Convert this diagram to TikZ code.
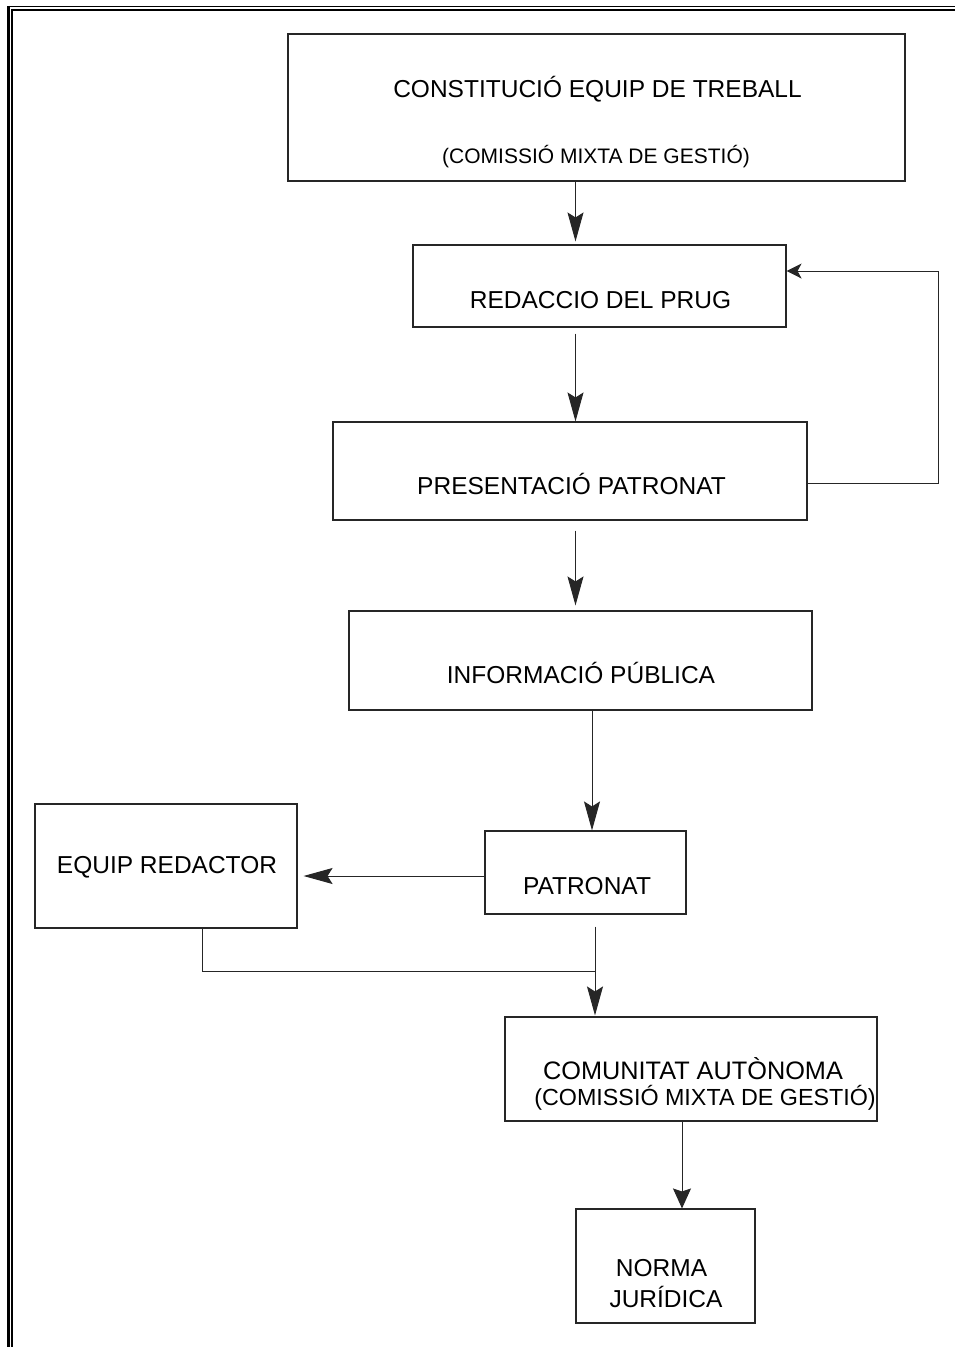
\documentclass[tikz,border=0pt]{standalone}
\usepackage{fontspec}
\setmainfont{Liberation Sans}
\usetikzlibrary{arrows.meta}
\tikzset{
  box/.style={draw=black!85, line width=1.1pt, rectangle, inner sep=0pt},
  txt/.style={inner sep=0pt, anchor=base, font=\fontsize{24.5}{31}\selectfont, align=center},
  conn/.style={draw=black!85, line width=1pt},
  arrlong/.style={conn, -{Stealth[length=29pt,width=16pt,inset=5pt]}},
  arrshort/.style={conn, -{Stealth[length=15pt,width=15pt,inset=4pt]}},
  arrwide/.style={conn, -{Stealth[length=20pt,width=18pt,inset=3pt]}},
  frame/.style={line cap=butt}
}
\begin{document}
\begin{tikzpicture}[x=1pt,y=-1pt]
\useasboundingbox (0,0) rectangle (955,1347);
\fill[white] (0,0) rectangle (955,1347);
% page frame (double line, top and left)
\draw[frame, line width=1.7pt] (7,6.6) -- (955,6.6);
\draw[frame, line width=1.7pt] (11,10) -- (955,10);
\draw[frame, line width=3pt] (8.5,5.8) -- (8.5,1347);
\draw[frame, line width=1.7pt] (11.9,9.2) -- (11.9,1347);

% boxes
\node[box, minimum width=617pt, minimum height=147pt] (n1) at (596.5,107.5) {};
\node[box, minimum width=373pt, minimum height=82pt]  (n2) at (599.5,286) {};
\node[box, minimum width=474pt, minimum height=98pt]  (n3) at (570,471) {};
\node[box, minimum width=463pt, minimum height=99pt]  (n4) at (580.5,660.5) {};
\node[box, minimum width=201pt, minimum height=83pt]  (n5) at (585.5,872.5) {};
\node[box, minimum width=262pt, minimum height=124pt] (n6) at (166,866) {};
\node[box, minimum width=372pt, minimum height=104pt] (n7) at (691,1069) {};
\node[box, minimum width=179pt, minimum height=114pt] (n8) at (665.5,1266) {};

% texts
\node[txt] (t1a) at (597.5,97) {CONSTITUCIÓ EQUIP DE TREBALL};
\node[txt, font=\fontsize{21}{25}\selectfont] (t1b) at (596,163) {(COMISSIÓ MIXTA DE GESTIÓ)};
\node[txt] (t2) at (600.5,308) {REDACCIO DEL PRUG};
\node[txt] (t3) at (571.5,494) {PRESENTACIÓ PATRONAT};
\node[txt] (t4) at (581,683) {INFORMACIÓ PÚBLICA};
\node[txt] (t5) at (587,894) {PATRONAT};
\node[txt] (t6) at (167,873) {EQUIP REDACTOR};
\node[txt, font=\fontsize{25.3}{31}\selectfont] (t7a) at (693,1079) {COMUNITAT AUTÒNOMA};
\node[txt, font=\fontsize{23.3}{27}\selectfont] (t7b) at (705,1105) {(COMISSIÓ MIXTA DE GESTIÓ)};
\node[txt] (t8a) at (661.5,1276) {NORMA};
\node[txt] (t8b) at (666,1307) {JURÍDICA};

% helper coordinates
\coordinate (xa) at (575.5,0);
\coordinate (xb) at (592,0);
\coordinate (xc) at (595,0);
\coordinate (xd) at (682,0);
\coordinate (xe) at (202,0);
\coordinate (ya) at (0,876);
\coordinate (j)  at (595,971);
\coordinate (f1) at (938,483);
\coordinate (f2) at (938,271);

% connectors
\draw[arrlong, shorten >=3pt] (n1.south -| xa) -- (n2.north -| xa);
\draw[arrlong] ([yshift=-6pt]n2.south -| xa) -- (n3.north -| xa);
\draw[arrlong, shorten >=5pt] ([yshift=-10pt]n3.south -| xa) -- (n4.north -| xa);
\draw[arrlong] (n4.south -| xb) -- (n5.north -| xb);
\draw[arrlong, shorten >=6pt] (n5.west |- ya) -- (n6.east |- ya);
\draw[arrlong, shorten >=1pt] ([yshift=-12pt]n5.south -| xc) -- (n7.north -| xc);
\draw[conn] (n6.south -| xe) |- (j);
\draw[arrwide] (n7.south -| xd) -- (n8.north -| xd);
\draw[arrshort] (n3.east |- f1) -- (f1) -- (f2) -- (n2.east |- f2);
\end{tikzpicture}
\end{document}
